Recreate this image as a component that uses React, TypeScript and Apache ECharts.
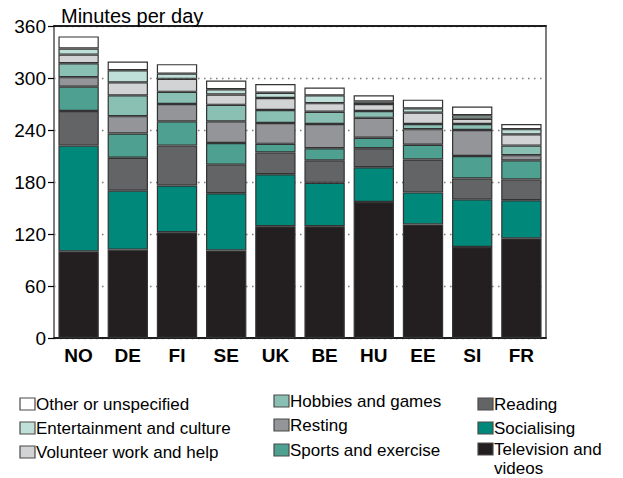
import React, { useEffect, useRef } from "react";
import * as echarts from "echarts";

// Leisure time use, minutes per day, by country
const categories = ["NO", "DE", "FI", "SE", "UK", "BE", "HU", "EE", "SI", "FR"];
const television = [100, 102, 122, 101, 129, 129, 157, 131, 105, 115];
const socialising = [122, 68, 54, 66, 60, 50, 40, 37, 55, 44];
const reading = [40, 38, 46, 33, 25, 26, 22, 38, 24, 24];
const sports = [28, 28, 28, 25, 10, 14, 12, 17, 26, 22];
const resting = [11, 20, 20, 25, 24, 28, 23, 18, 30, 6];
const hobbies = [16, 24, 14, 19, 15, 14, 8, 6, 7, 11];
const volunteer = [10, 15, 15, 12, 14, 10, 8, 13, 6, 13];
const entertainment = [7, 14, 6, 6, 6, 9, 3, 5, 4, 6];
const other = [14, 10, 11, 10, 10, 9, 7, 10, 10, 6];

const yTicks = [0, 60, 120, 180, 240, 300, 360];

const FONT = '"Liberation Sans", Arial, Helvetica, sans-serif';

// stacked from the bottom up
const seriesDefs = [
  { name: "Television and videos", data: television, color: "#231f20" },
  { name: "Socialising", data: socialising, color: "#00897a" },
  { name: "Reading", data: reading, color: "#636466" },
  { name: "Sports and exercise", data: sports, color: "#4ea191" },
  { name: "Resting", data: resting, color: "#939598" },
  { name: "Hobbies and games", data: hobbies, color: "#8abfb4" },
  { name: "Volunteer work and help", data: volunteer, color: "#d1d3d4" },
  { name: "Entertainment and culture", data: entertainment, color: "#bfe0d8" },
  { name: "Other or unspecified", data: other, color: "#ffffff" },
];

// legend columns: icon x, row centres, series names top to bottom
const legendColumns = [
  { x: 20, rows: [404, 428, 452], names: ["Other or unspecified", "Entertainment and culture", "Volunteer work and help"] },
  { x: 274, rows: [401, 425, 450], names: ["Hobbies and games", "Resting", "Sports and exercise"] },
  { x: 478, rows: [404, 428, 449], names: ["Reading", "Socialising", "Television and videos"] },
];

const LEGEND_FONT = 17;
const LEGEND_LINE = 19;

function legendGraphics() {
  const items: any[] = [];
  legendColumns.forEach((col) => {
    col.names.forEach((name, i) => {
      const def = seriesDefs.find((s) => s.name === name)!;
      const cy = col.rows[i];
      items.push({
        type: "rect",
        shape: { x: col.x, y: cy - 6, width: 15, height: 12 },
        style: { fill: def.color, stroke: "#4a4a4a", lineWidth: 1.2 },
      });
      // the long name wraps onto a second line
      const lines = name === "Television and videos" ? ["Television and", "videos"] : [name];
      lines.forEach((line, k) => {
        items.push({
          type: "text",
          x: col.x + 16,
          y: cy - LEGEND_FONT / 2 + k * LEGEND_LINE,
          style: {
            text: line,
            fill: "#000",
            fontSize: LEGEND_FONT,
            fontFamily: FONT,
            verticalAlign: "top",
            align: "left",
          },
        });
      });
    });
  });
  return items;
}

export default function App() {
  const ref = useRef<HTMLDivElement>(null);

  useEffect(() => {
    if (!ref.current) return;
    const chart = echarts.init(ref.current, undefined, { renderer: "svg" });
    chart.setOption({
      animation: false,
      backgroundColor: "#ffffff",
      title: {
        text: "Minutes per day",
        left: 56,
        top: 1,
        textStyle: { fontSize: 20, fontWeight: "normal", color: "#000", fontFamily: FONT },
      },
      grid: {
        left: 54,
        right: 77,
        top: 26,
        bottom: 140,
        show: true,
        borderColor: "#7d7d7d",
        borderWidth: 2,
        backgroundColor: "transparent",
      },
      xAxis: [
        {
          type: "category",
          data: categories,
          position: "bottom",
          axisLine: { show: true, lineStyle: { color: "#000", width: 1.5 } },
          axisTick: { show: false },
          axisLabel: {
            color: "#000",
            fontSize: 19,
            fontWeight: "bold",
            fontFamily: FONT,
            margin: 8,
          },
        },
        {
          type: "category",
          data: categories,
          position: "top",
          axisLine: { show: true, lineStyle: { color: "#000", width: 1.5 } },
          axisTick: { show: false },
          axisLabel: { show: false },
        },
      ],
      yAxis: {
        type: "value",
        min: yTicks[0],
        max: yTicks[yTicks.length - 1],
        interval: 60,
        axisLine: { show: true, lineStyle: { color: "#7d7d7d", width: 2 } },
        axisTick: { show: true, length: 6, lineStyle: { color: "#000", width: 1.2 } },
        axisLabel: { color: "#000", fontSize: 19, fontFamily: FONT, margin: 8 },
        splitLine: {
          show: true,
          lineStyle: { color: "#7a7a7a", width: 1.3, type: [1.5, 4.5] },
        },
      },
      series: seriesDefs.map((s) => ({
        name: s.name,
        type: "bar",
        stack: "minutes",
        data: s.data,
        barCategoryGap: "18%",
        itemStyle: { color: s.color, borderColor: "#333333", borderWidth: 1.2 },
        emphasis: { disabled: true },
      })),
      graphic: legendGraphics(),
    });
    return () => chart.dispose();
  }, []);

  return (
    <div
      ref={ref}
      style={{ position: "fixed", left: 0, top: 0, width: 623, height: 478 }}
    />
  );
}
